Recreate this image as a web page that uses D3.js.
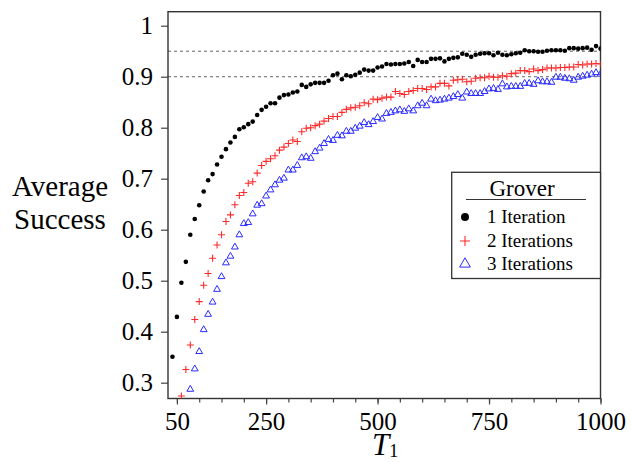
<!DOCTYPE html>
<html>
<head>
<meta charset="utf-8">
<script src="https://cdn.jsdelivr.net/npm/d3@7/dist/d3.min.js"></script>
<style>
  html, body { margin: 0; padding: 0; background: #fff; }
  svg { display: block; }
  text { font-family: "Liberation Serif", "Times New Roman", serif; fill: #000; }
</style>
</head>
<body>
<svg id="chart" width="631" height="462"></svg>
<script>
// Sampling grid of T1 values
const t1 = [40, 50, 60, 70, 80, 90, 100, 110, 120, 130, 140, 150, 160, 170, 180, 190, 200,
  210, 220, 230, 240, 250, 260, 270, 280, 290, 300, 310, 320, 330, 340, 350, 360, 370, 380,
  390, 400, 410, 420, 430, 440, 450, 460, 470, 480, 490, 500, 510, 520, 530, 540, 550, 560,
  570, 580, 590, 600, 610, 620, 630, 640, 650, 660, 670, 680, 690, 700, 710, 720, 730, 740,
  750, 760, 770, 780, 790, 800, 810, 820, 830, 840, 850, 860, 870, 880, 890, 900, 910, 920,
  930, 940, 950, 960, 970, 980, 990, 1000];

// Average success, one Grover iteration
const iter1 = [0.351, 0.429, 0.496, 0.537, 0.590, 0.621, 0.648, 0.675, 0.697, 0.709, 0.728,
  0.743, 0.758, 0.771, 0.782, 0.797, 0.801, 0.807, 0.812, 0.825, 0.835, 0.841, 0.848, 0.848,
  0.859, 0.864, 0.865, 0.869, 0.871, 0.884, 0.880, 0.885, 0.888, 0.888, 0.888, 0.892, 0.903,
  0.906, 0.895, 0.903, 0.901, 0.904, 0.908, 0.914, 0.912, 0.912, 0.918, 0.920, 0.925, 0.924,
  0.925, 0.925, 0.926, 0.929, 0.921, 0.933, 0.929, 0.929, 0.935, 0.935, 0.936, 0.930, 0.935,
  0.937, 0.938, 0.945, 0.943, 0.939, 0.943, 0.945, 0.946, 0.946, 0.942, 0.947, 0.943, 0.942,
  0.944, 0.946, 0.947, 0.952, 0.950, 0.950, 0.949, 0.949, 0.951, 0.952, 0.952, 0.952, 0.951,
  0.956, 0.956, 0.955, 0.956, 0.957, 0.953, 0.960, 0.955];

// Two iterations (first samples fall below the visible range)
const iter2 = [null, null, 0.274, 0.326, 0.374, 0.424, 0.459, 0.491, 0.514, 0.544, 0.570,
  0.590, 0.616, 0.629, 0.649, 0.667, 0.673, 0.691, 0.694, 0.711, 0.726, 0.734, 0.739, 0.745,
  0.756, 0.762, 0.769, 0.776, 0.773, 0.792, 0.799, 0.800, 0.804, 0.807, 0.813, 0.818, 0.822,
  0.822, 0.830, 0.836, 0.839, 0.840, 0.843, 0.849, 0.847, 0.856, 0.855, 0.858, 0.860, 0.860,
  0.871, 0.867, 0.865, 0.871, 0.873, 0.877, 0.877, 0.875, 0.880, 0.880, 0.887, 0.887, 0.882,
  0.893, 0.894, 0.895, 0.890, 0.891, 0.897, 0.898, 0.898, 0.901, 0.899, 0.899, 0.902, 0.901,
  0.906, 0.907, 0.912, 0.912, 0.910, 0.915, 0.912, 0.914, 0.917, 0.917, 0.917, 0.918, 0.918,
  0.919, 0.919, 0.924, 0.923, 0.925, 0.925, 0.926, 0.925];

// Three iterations
const iter3 = [null, null, null, null, 0.287, 0.327, 0.361, 0.404, 0.434, 0.458, 0.483,
  0.508, 0.535, 0.548, 0.566, 0.590, 0.612, 0.614, 0.631, 0.648, 0.651, 0.666, 0.678, 0.688,
  0.697, 0.701, 0.717, 0.717, 0.726, 0.741, 0.743, 0.740, 0.753, 0.760, 0.769, 0.777, 0.775,
  0.785, 0.784, 0.793, 0.793, 0.799, 0.803, 0.810, 0.806, 0.812, 0.820, 0.817, 0.828, 0.830,
  0.833, 0.835, 0.832, 0.837, 0.833, 0.843, 0.848, 0.843, 0.856, 0.853, 0.854, 0.856, 0.858,
  0.861, 0.865, 0.858, 0.870, 0.867, 0.867, 0.867, 0.871, 0.876, 0.877, 0.875, 0.886, 0.880,
  0.881, 0.881, 0.881, 0.887, 0.887, 0.885, 0.892, 0.890, 0.890, 0.889, 0.899, 0.899, 0.897,
  0.896, 0.893, 0.899, 0.901, 0.903, 0.905, 0.908, 0.905];

const xTicks = [50, 250, 500, 750, 1000];
const xMinorTicks = d3.range(50, 1001, 50);
const yTicks = [0.3, 0.4, 0.5, 0.6, 0.7, 0.8, 0.9, 1];
const yTickLabels = ["0.3", "0.4", "0.5", "0.6", "0.7", "0.8", "0.9", "1"];
const thresholds = [0.95, 0.9];
const legendTitle = "Grover";
const legendLabels = ["1 Iteration", "2 Iterations", "3 Iterations"];

const svg = d3.select("#chart");
const plotL = 168, plotR = 600.5, plotT = 11.7, plotB = 398.5;

const x = d3.scaleLinear().domain([30, 1000]).range([plotL, plotR]);
const y = d3.scaleLinear().domain([0.269, 1.0275]).range([plotB, plotT]);

svg.append("defs").append("clipPath").attr("id", "plot-clip")
  .append("rect").attr("x", plotL).attr("y", plotT)
  .attr("width", plotR - plotL).attr("height", plotB - plotT);

// Reference levels
svg.append("g").selectAll("line").data(thresholds).join("line")
  .attr("x1", plotL).attr("x2", plotR)
  .attr("y1", d => y(d)).attr("y2", d => y(d))
  .attr("stroke", "#666").attr("stroke-width", 1)
  .attr("stroke-dasharray", "3,3");

// Axes
const xAxis = svg.append("g").attr("transform", `translate(0,${plotB})`)
  .call(d3.axisBottom(x).tickValues(xTicks).tickFormat(d3.format("d"))
    .tickSize(6).tickPadding(8));
const xMinor = svg.append("g").attr("transform", `translate(0,${plotB})`)
  .call(d3.axisBottom(x).tickValues(xMinorTicks).tickFormat("").tickSize(4));

const yAxis = svg.append("g").attr("transform", `translate(${plotL},0)`)
  .call(d3.axisLeft(y).tickValues(yTicks).tickFormat((d, i) => yTickLabels[i])
    .tickSize(7).tickPadding(8));

[xAxis, xMinor, yAxis].forEach(g => {
  g.selectAll(".domain").remove();
  g.selectAll(".tick line").attr("stroke", "#444").attr("stroke-width", 1.2);
});
[xAxis, yAxis].forEach(g => g.selectAll(".tick text")
  .style("font-family", "'Liberation Serif', serif").style("font-size", "25px")
  .attr("fill", "#000"));

// Frame
svg.append("rect").attr("x", plotL).attr("y", plotT)
  .attr("width", plotR - plotL).attr("height", plotB - plotT)
  .attr("fill", "none").attr("stroke", "#333").attr("stroke-width", 1.4);

// Series marks
const plot = svg.append("g").attr("clip-path", "url(#plot-clip)");
const pts = arr => t1.map((t, i) => ({ t, v: arr[i] })).filter(d => d.v != null);

plot.append("g").selectAll("circle").data(pts(iter1)).join("circle")
  .attr("cx", d => x(d.t)).attr("cy", d => y(d.v)).attr("r", 2.3)
  .attr("fill", "#000");

const cross = s => `M${-s},0H${s}M0,${-s}V${s}`;
plot.append("g").selectAll("path").data(pts(iter2)).join("path")
  .attr("transform", d => `translate(${x(d.t)},${y(d.v)})`)
  .attr("d", cross(3.5)).attr("fill", "none")
  .attr("stroke", "#ff2a2a").attr("stroke-width", 1.1);

const tri = d3.symbol().type(d3.symbolTriangle).size(20);
plot.append("g").selectAll("path").data(pts(iter3)).join("path")
  .attr("transform", d => `translate(${x(d.t)},${y(d.v)})`)
  .attr("d", tri).attr("fill", "none")
  .attr("stroke", "#2b2bff").attr("stroke-width", 1);

// Axis titles
const yTitle = svg.append("text").attr("text-anchor", "middle")
  .style("font-size", "29px");
yTitle.append("tspan").attr("x", 60).attr("y", 196).text("Average");
yTitle.append("tspan").attr("x", 60).attr("y", 229).text("Success");

const xTitle = svg.append("text").attr("x", 385).attr("y", 455)
  .attr("text-anchor", "middle");
xTitle.append("tspan").style("font-style", "italic").style("font-size", "31px").text("T");
xTitle.append("tspan").style("font-size", "18px").attr("dy", 2).text("1");

// Legend
const lg = svg.append("g");
lg.append("rect").attr("x", 451.7).attr("y", 172.3)
  .attr("width", plotR - 451.7).attr("height", 278.5 - 172.3)
  .attr("fill", "#fff").attr("stroke", "#333").attr("stroke-width", 1.3);
lg.append("text").attr("x", 522).attr("y", 196).attr("text-anchor", "middle")
  .style("font-size", "23px").text(legendTitle);
lg.append("line").attr("x1", 466).attr("x2", 586).attr("y1", 199.5).attr("y2", 199.5)
  .attr("stroke", "#333").attr("stroke-width", 1.2);

const rows = [216, 240, 263];
lg.selectAll("text.entry").data(legendLabels).join("text")
  .attr("class", "entry").attr("x", 487).attr("y", (d, i) => rows[i])
  .attr("dy", "0.35em").style("font-size", "19px").text(d => d);

lg.append("circle").attr("cx", 465).attr("cy", rows[0] + 1).attr("r", 4).attr("fill", "#000");
lg.append("path").attr("transform", `translate(465,${rows[1] + 1})`)
  .attr("d", cross(5)).attr("stroke", "#ff2a2a").attr("stroke-width", 1.1);
lg.append("path").attr("transform", `translate(465,${rows[2] + 1})`)
  .attr("d", d3.symbol().type(d3.symbolTriangle).size(50)).attr("fill", "none")
  .attr("stroke", "#2b2bff").attr("stroke-width", 1);
</script>
</body>
</html>
